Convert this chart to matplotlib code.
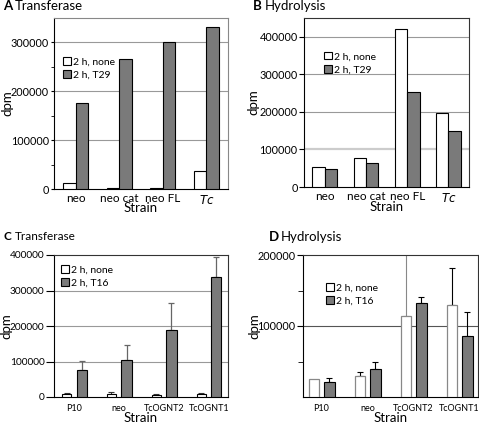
import matplotlib
matplotlib.use("Agg")
import matplotlib.pyplot as plt
import numpy as np
from matplotlib.patches import Patch

plt.rcParams['font.family'] = ['Lato', 'DejaVu Sans']

# Data
top_strains = ["neo", "neo cat", "neo FL", "$\\it{Tc}$"]
bottom_strains = ["P10", "neo", "TcOGNT2", "TcOGNT1"]

a_none = [13000, 2000, 2000, 37000]
a_t29 = [177000, 266000, 300000, 331000]

b_none = [52000, 77000, 420000, 198000]
b_t29 = [49000, 65000, 254000, 148000]

c_none = [9000, 9000, 7000, 9000]
c_none_err = [2500, 6000, 1500, 2500]
c_t16 = [77000, 104000, 188000, 337000]
c_t16_err = [25000, 43000, 78000, 56000]

d_none = [26000, 30000, 114000, 129000]
d_none_err = [0, 5000, 120000, 52000]
d_t16 = [21000, 39000, 133000, 86000]
d_t16_err = [6000, 11000, 8000, 34000]

GRAY = "#7a7a7a"
W, H = 479, 426
fig = plt.figure(figsize=(W / 100, H / 100), dpi=100)


def ax_at(l, t, r, b):
    ax = fig.add_axes([l / W, 1 - b / H, (r - l) / W, (b - t) / H])
    ax._px = (l, t, r, b)
    return ax


def panel_title(x, y, letter, text, size):
    fig.text(x / W, 1 - y / H, letter, fontsize=size, fontweight="bold", va="center")
    fig.text((x + 12) / W, 1 - y / H, text, fontsize=size, va="center")


def style(ax, dpm_x, strain_y, tick_len, xpad, edge_gray=True):
    l, t, r, b = ax._px
    for s in ["top", "right"]:
        ax.spines[s].set_color("#888888" if edge_gray else "#333333")
    # tick lengths given in pixels, matplotlib wants points
    ax.tick_params(axis="y", labelsize=7.8, length=tick_len * 0.72, width=0.8, pad=1)
    ax.tick_params(axis="x", length=0, pad=xpad)
    ax.set_ylabel("dpm", fontsize=9.5, va="center")
    ax.yaxis.set_label_coords((dpm_x - l) / (r - l), 0.5)
    ax.set_xlabel("Strain", fontsize=9.5, va="center")
    ax.xaxis.set_label_coords(0.5, -(strain_y - b) / (b - t))


def legend(ax, labels, loc):
    handles = [Patch(facecolor="white", edgecolor="black", linewidth=0.8),
               Patch(facecolor=GRAY, edgecolor="black", linewidth=0.8)]
    ax.legend(handles, labels, loc="upper left", bbox_to_anchor=loc, frameon=False,
              fontsize=7.5, handlelength=0.75, handleheight=0.75, handletextpad=0.2,
              labelspacing=0.35, borderaxespad=0, borderpad=0)


x = np.arange(4)

# ---- A
ax = ax_at(54, 18, 228, 189)
w = 0.29
ax.bar(x - w / 2, a_none, w, color="white", edgecolor="black", linewidth=0.8, zorder=3)
ax.bar(x + w / 2, a_t29, w, color=GRAY, edgecolor="black", linewidth=0.8, zorder=3)
ax.set_xlim(-0.5, 3.5)
ax.set_ylim(0, 350000)
ax.set_yticks([0, 100000, 200000, 300000])
ax.set_yticks([50000, 150000, 250000], minor=True)
for v in [100000, 200000, 300000]:
    ax.axhline(v, color="#999999", linewidth=0.8, zorder=1)
ax.set_xticks(x, top_strains, fontsize=8.5)
style(ax, 7, 208, 3.5, 3)
ax.tick_params(axis="y", which="minor", length=2)
legend(ax, ["2 h, none", "2 h, T29"], (0.05, 0.77))
panel_title(3, 6.5, "A", "Transferase", 9.5)

# ---- B
ax = ax_at(304, 18, 469, 187)
w = 0.3
ax.bar(x - w / 2, b_none, w, color="white", edgecolor="black", linewidth=0.8, zorder=3)
ax.bar(x + w / 2, b_t29, w, color=GRAY, edgecolor="black", linewidth=0.8, zorder=3)
ax.set_xlim(-0.5, 3.5)
ax.set_ylim(0, 450000)
ax.set_yticks([0, 100000, 200000, 300000, 400000])
ax.axhline(100000, color="#cccccc", linewidth=1.6, zorder=1)
for v in [200000, 300000, 400000]:
    ax.axhline(v, color="#999999", linewidth=0.8, zorder=1)
ax.set_xticks(x, top_strains, fontsize=8.5)
style(ax, 253, 207, 5, 3, edge_gray=False)
legend(ax, ["2 h, none", "2 h, T29"], (0.12, 0.8))
panel_title(253, 6.5, "B", "Hydrolysis", 9.5)

# ---- C
ax = ax_at(54, 255, 228, 397)
off = 0.17
ax.bar(x - off, c_none, 0.2, color="white", edgecolor="black", linewidth=0.8, zorder=3)
ax.bar(x + off, c_t16, 0.23, color=GRAY, edgecolor="black", linewidth=0.8, zorder=3)
ax.errorbar(x - off, c_none, yerr=[np.zeros(4), c_none_err], fmt="none",
            ecolor="#333333", elinewidth=0.8, capsize=2.5, capthick=0.8, zorder=2)
ax.errorbar(x + off, c_t16, yerr=[np.zeros(4), c_t16_err], fmt="none",
            ecolor="#666666", elinewidth=0.9, capsize=2.5, capthick=0.9, zorder=2)
ax.set_xlim(-0.45, 3.43)
ax.set_ylim(0, 400000)
ax.set_yticks([0, 100000, 200000, 300000, 400000])
for v in [100000, 200000, 300000]:
    ax.axhline(v, color="#999999", linewidth=0.8, zorder=1)
ax.set_xticks(x, bottom_strains, fontsize=6.5)
style(ax, 6, 418, 8, 5, edge_gray=False)
ax.tick_params(axis="y", labelsize=7.3)
legend(ax, ["2 h, none", "2 h, T16"], (0.04, 0.93))
panel_title(3, 236, "C", "Transferase", 8.5)

# ---- D
ax = ax_at(303, 255, 478, 397)
ax.bar(x - off, d_none, 0.22, color="white", edgecolor="#888888", linewidth=0.9, zorder=3)
ax.bar(x + off, d_t16, 0.23, color=GRAY, edgecolor="black", linewidth=0.8, zorder=3)
ecol = ["black", "black", "#888888", "black"]
for i in range(4):
    if d_none_err[i] > 0:
        ax.errorbar(x[i] - off, d_none[i], yerr=[[0], [d_none_err[i]]], fmt="none",
                    ecolor=ecol[i], elinewidth=0.8, capsize=2.5, capthick=0.8, zorder=2)
ax.errorbar(x + off, d_t16, yerr=[np.zeros(4), d_t16_err], fmt="none",
            ecolor="black", elinewidth=0.8, capsize=2.5, capthick=0.8, zorder=2)
ax.set_xlim(-0.4, 3.4)
ax.set_ylim(0, 200000)
ax.set_yticks([100000, 200000])
ax.set_yticks([50000, 150000], minor=True)
ax.axhline(100000, color="#555555", linewidth=0.8, zorder=1)
ax.set_xticks(x, bottom_strains, fontsize=6.5)
style(ax, 254, 418, 6, 5, edge_gray=False)
ax.tick_params(axis="y", which="minor", length=3.5)
legend(ax, ["2 h, none", "2 h, T16"], (0.13, 0.8))
panel_title(269, 237, "D", "Hydrolysis", 9.5)

fig.savefig("out.png", dpi=100)
